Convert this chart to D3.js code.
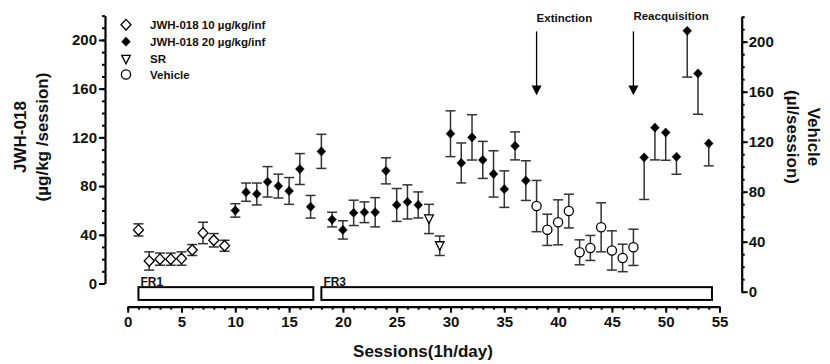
<!DOCTYPE html>
<html>
<head>
<meta charset="utf-8">
<script src="https://cdn.jsdelivr.net/npm/d3@7"></script>
<style>
  body { margin: 0; background: #fff; }
  svg text { font-family: "Liberation Sans", Arial, sans-serif; font-weight: bold; fill: #111; }
</style>
</head>
<body>
<div id="chart"></div>
<script>
// JWH-018 10 µg/kg/inf (FR1, left axis)
const sessions10 = [1, 2, 3, 4, 5, 6, 7, 8, 9];
const values10 = [44, 18.5, 20, 20, 20.5, 27.5, 41.5, 35.5, 31];
const errors10 = [5, 7.5, 5, 5, 5.5, 4.5, 8.8, 5.5, 4.5];

// JWH-018 20 µg/kg/inf (left axis)
const sessions20 = [10, 11, 12, 13, 14, 15, 16, 17, 18, 19, 20, 21, 22, 23, 24, 25, 26, 27,
  30, 31, 32, 33, 34, 35, 36, 37];
const values20 = [60, 75, 73.5, 83.5, 80, 76, 94, 63, 108.5, 52.5, 44, 58, 58.5, 58.5, 92.5, 64.5, 67, 64.5,
  123, 99, 120, 101.5, 90, 77.5, 113, 84.5];
const errors20 = [5.5, 7.5, 9, 12.5, 9.8, 11, 12.7, 9.3, 14, 6, 7.5, 10.4, 8.5, 12, 10.7, 13.5, 14, 10.7,
  18.8, 16.4, 18.6, 15.2, 19, 15, 11.5, 16.3];

// SR (left axis)
const sessionsSR = [28, 29];
const valuesSR = [53, 31];
const errorsSR = [12, 8];

// Vehicle (right axis, µl/session)
const sessionsVeh = [38, 39, 40, 41, 42, 43, 44, 45, 46, 47];
const valuesVeh = [68.5, 49.5, 55.5, 64.5, 31.5, 35, 51.5, 33, 27, 35.5];
const errorsVeh = [20.5, 12.5, 18, 13.5, 10, 10, 19.6, 15.7, 11, 14.5];

// Reacquisition, JWH-018 20 µg/kg/inf (left axis), error drawn below only
const sessionsReacq = [48, 49, 50, 51, 52, 53, 54];
const valuesReacq = [103.5, 128, 124, 104, 207.5, 172.5, 115];
const errorsReacq = [34.5, 26.5, 22.8, 14.3, 38, 33.5, 18.4];

// schedule bars
const phaseNames = ["FR1", "FR3"];
const phaseStart = [1, 18];
const phaseEnd = [17.25, 54.3];

// event arrows
const eventNames = ["Extinction", "Reacquisition"];
const eventSessions = [38, 47];

const legendNames = ["JWH-018 10 µg/kg/inf", "JWH-018 20 µg/kg/inf", "SR", "Vehicle"];

const xTicks = d3.range(0, 56, 5);
const yTicks = [0, 40, 80, 120, 160, 200];

const width = 830, height = 364;

const svg = d3.select("#chart").append("svg")
  .attr("width", width)
  .attr("height", height);

const x = d3.scaleLinear().domain([0, 55]).range([127.7, 719.5]);
const yL = d3.scaleLinear().domain([0, 220]).range([283.5, 15.6]);
const yR = d3.scaleLinear().domain([0, 220]).range([291.7, 16.7]);

const leftX = 105, rightX = 741.7, axisY = 306.7;

// axes
function minorTicks(g) {
  g.selectAll("path.domain").attr("stroke", "#000").attr("stroke-width", 2.2);
  g.selectAll("line").attr("stroke", "#000").attr("stroke-width", 2);
}

const yLeftAxis = svg.append("g").attr("transform", `translate(${leftX},0)`);
yLeftAxis.append("g")
  .call(d3.axisLeft(yL).tickValues(d3.range(0, 221, 10)).tickSize(3).tickFormat("").tickSizeOuter(0))
  .call(minorTicks);
yLeftAxis.append("g")
  .call(d3.axisLeft(yL).tickValues(yTicks).tickSize(6).tickSizeOuter(0).tickPadding(2))
  .call(minorTicks)
  .call(g => g.select(".domain").remove())
  .selectAll("text").style("font-size", "15px").attr("font-family", null);

const yRightAxis = svg.append("g").attr("transform", `translate(${rightX},0)`);
yRightAxis.append("g")
  .call(d3.axisRight(yR).tickValues(d3.range(0, 221, 10)).tickSize(3).tickFormat("").tickSizeOuter(0))
  .call(minorTicks);
yRightAxis.append("g")
  .call(d3.axisRight(yR).tickValues(yTicks).tickSize(6).tickSizeOuter(0).tickPadding(1))
  .call(minorTicks)
  .call(g => g.select(".domain").remove())
  .selectAll("text").style("font-size", "15px").attr("font-family", null);

const xAxis = svg.append("g").attr("transform", `translate(0,${axisY})`);
xAxis.append("g")
  .call(d3.axisBottom(x).tickValues(d3.range(0, 56, 1)).tickSize(3).tickFormat("").tickSizeOuter(0))
  .call(minorTicks);
xAxis.append("g")
  .call(d3.axisBottom(x).tickValues(xTicks).tickSize(6).tickSizeOuter(0).tickPadding(4))
  .call(minorTicks)
  .call(g => g.select(".domain").remove())
  .selectAll("text").style("font-size", "15px").attr("font-family", null);

// axis titles
svg.append("text")
  .attr("transform", "translate(26,137) rotate(-90)")
  .attr("text-anchor", "middle")
  .style("font-size", "17px")
  .text("JWH-018");
svg.append("text")
  .attr("transform", "translate(48,137) rotate(-90)")
  .attr("text-anchor", "middle")
  .style("font-size", "17px")
  .text("(µg/kg /session)");
svg.append("text")
  .attr("transform", "translate(808,137) rotate(90)")
  .attr("text-anchor", "middle")
  .style("font-size", "17px")
  .text("Vehicle");
svg.append("text")
  .attr("transform", "translate(787,137) rotate(90)")
  .attr("text-anchor", "middle")
  .style("font-size", "17px")
  .text("(µl/session)");
svg.append("text")
  .attr("x", 423)
  .attr("y", 357)
  .attr("text-anchor", "middle")
  .style("font-size", "17px")
  .text("Sessions(1h/day)");

// schedule bars
const phases = phaseNames.map((d, i) => ({ name: d, start: phaseStart[i], end: phaseEnd[i] }));
svg.append("g").selectAll("rect")
  .data(phases)
  .enter()
  .append("rect")
  .attr("x", d => x(d.start))
  .attr("width", d => x(d.end) - x(d.start))
  .attr("y", yL(-3))
  .attr("height", yL(-13.5) - yL(-3))
  .attr("fill", "#fff")
  .attr("stroke", "#000")
  .attr("stroke-width", 2);
svg.append("g").selectAll("text")
  .data(phases)
  .enter()
  .append("text")
  .attr("x", d => x(d.start) + 2)
  .attr("y", yL(-2))
  .style("font-size", "12px")
  .text(d => d.name);

// event arrows
const events = eventNames.map((d, i) => ({ name: d, session: eventSessions[i] }));
const arrows = svg.append("g").selectAll("g")
  .data(events)
  .enter()
  .append("g");
arrows.append("line")
  .attr("x1", d => x(d.session))
  .attr("x2", d => x(d.session))
  .attr("y1", yL(207))
  .attr("y2", yL(162))
  .attr("stroke", "#000")
  .attr("stroke-width", 1.3);
arrows.append("path")
  .attr("d", d => {
    const cx = x(d.session), tip = yL(154.5), base = yL(162.5);
    return `M${cx - 5},${base}L${cx + 5},${base}L${cx},${tip}Z`;
  })
  .attr("fill", "#000");
arrows.append("text")
  .attr("x", d => x(d.session))
  .attr("y", (d, i) => i === 0 ? 22 : 20)
  .style("font-size", "11.5px")
  .text(d => d.name);

// marker shapes
function shapePath(type, cx, cy) {
  if (type === "openDiamond") return `M${cx},${cy - 5.3}L${cx + 5},${cy}L${cx},${cy + 5.3}L${cx - 5},${cy}Z`;
  if (type === "diamond") return `M${cx},${cy - 4.6}L${cx + 4.4},${cy}L${cx},${cy + 4.6}L${cx - 4.4},${cy}Z`;
  if (type === "triangle") return `M${cx - 4.3},${cy - 4}L${cx + 4.3},${cy - 4}L${cx},${cy + 4.5}Z`;
  return null;
}

function drawSeries(name, sessions, values, errors, y, type, lowerOnly) {
  const data = sessions.map((s, i) => ({ s: s, v: values[i], e: errors[i] }));
  const g = svg.append("g").attr("class", name);

  // error bars
  const eb = g.selectAll("g.err")
    .data(data)
    .enter()
    .append("g")
    .attr("class", "err")
    .attr("stroke", "#333")
    .attr("stroke-width", 1.5);
  eb.append("line")
    .attr("x1", d => x(d.s))
    .attr("x2", d => x(d.s))
    .attr("y1", d => lowerOnly ? y(d.v) : y(d.v + d.e))
    .attr("y2", d => y(d.v - d.e));
  if (!lowerOnly) {
    eb.append("line")
      .attr("x1", d => x(d.s) - 5)
      .attr("x2", d => x(d.s) + 5)
      .attr("y1", d => y(d.v + d.e))
      .attr("y2", d => y(d.v + d.e));
  }
  eb.append("line")
    .attr("x1", d => x(d.s) - 5)
    .attr("x2", d => x(d.s) + 5)
    .attr("y1", d => y(d.v - d.e))
    .attr("y2", d => y(d.v - d.e));

  // markers
  if (type === "circle") {
    g.selectAll("circle")
      .data(data)
      .enter()
      .append("circle")
      .attr("cx", d => x(d.s))
      .attr("cy", d => y(d.v))
      .attr("r", 4.6)
      .attr("fill", "#fff")
      .attr("stroke", "#000")
      .attr("stroke-width", 1.3);
  } else {
    g.selectAll("path.mark")
      .data(data)
      .enter()
      .append("path")
      .attr("class", "mark")
      .attr("d", d => shapePath(type, x(d.s), y(d.v)))
      .attr("fill", type === "diamond" ? "#000" : "#fff")
      .attr("stroke", "#000")
      .attr("stroke-width", type === "diamond" ? 0.5 : 1.3);
  }
}

drawSeries("jwh10", sessions10, values10, errors10, yL, "openDiamond", false);
drawSeries("jwh20", sessions20, values20, errors20, yL, "diamond", false);
drawSeries("sr", sessionsSR, valuesSR, errorsSR, yL, "triangle", false);
drawSeries("vehicle", sessionsVeh, valuesVeh, errorsVeh, yR, "circle", false);
drawSeries("reacq", sessionsReacq, valuesReacq, errorsReacq, yL, "diamond", true);

// legend
const legendTypes = ["openDiamond", "diamond", "triangle", "circle"];
const legendY = [24.7, 41.7, 59.3, 74.5];
const legend = svg.append("g").attr("class", "legend");
legendNames.forEach((name, i) => {
  const t = legendTypes[i];
  if (t === "circle") {
    legend.append("circle")
      .attr("cx", 126).attr("cy", legendY[i]).attr("r", 4.6)
      .attr("fill", "#fff").attr("stroke", "#000").attr("stroke-width", 1.3);
  } else {
    legend.append("path")
      .attr("d", shapePath(t, 126, legendY[i]))
      .attr("fill", t === "diamond" ? "#000" : "#fff")
      .attr("stroke", "#000")
      .attr("stroke-width", t === "diamond" ? 0.5 : 1.3);
  }
  legend.append("text")
    .attr("x", 150)
    .attr("y", legendY[i] + 4)
    .style("font-size", "11.5px")
    .text(name);
});
</script>
</body>
</html>
